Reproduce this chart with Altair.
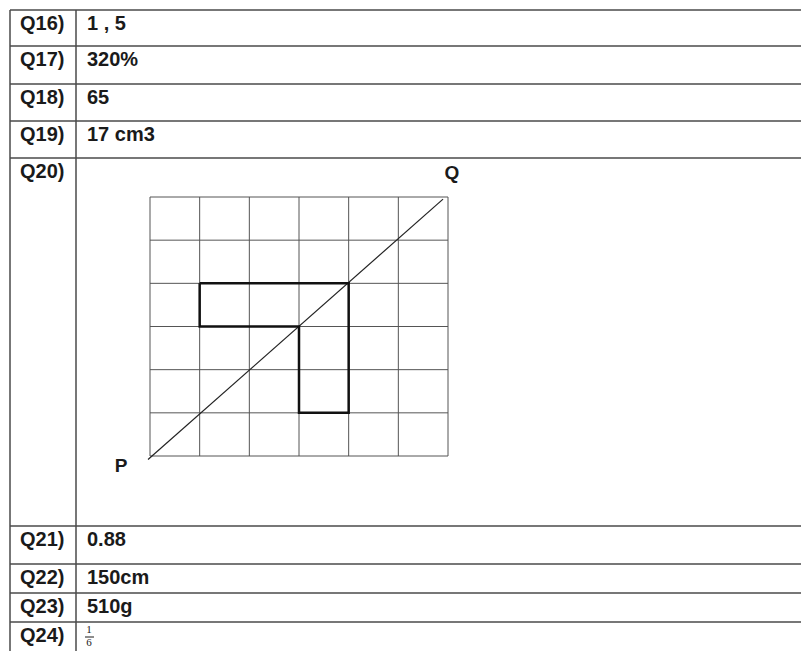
import altair as alt
import pandas as pd

# ---- table content ----
labels = ["Q16)", "Q17)", "Q18)", "Q19)", "Q20)", "Q21)", "Q22)", "Q23)", "Q24)"]
answers = ["1 , 5", "320%", "65", "17 cm3", "", "0.88", "150cm", "510g", ""]
row_tops = [10, 46, 84, 121, 158, 526, 564, 593, 622]
col_edges = [10, 76]
table_right = 801
table_bottom = 651
frac_parts = ["1", "6"]

# ---- Q20 drawing (grid units) ----
grid_lines = [0, 1, 2, 3, 4, 5, 6]
shape_x = [1, 4, 4, 3, 3, 1, 1]
shape_y = [4, 4, 1, 1, 3, 3, 4]
diag_x = [-0.04, 5.9]
diag_y = [-0.08, 5.95]
point_names = ["P", "Q"]
point_x = [-0.58, 6.08]
point_y = [-0.37, 6.41]

LINE = "#4a4a4a"
FONT = "Liberation Sans"

# page pixel coordinates -> plot (svg sits at an 8px offset)
xs = alt.Scale(domain=[8, 801], nice=False, zero=False)
ys = alt.Scale(domain=[8, 651], nice=False, zero=False, reverse=True)

hdf = pd.DataFrame({"y": row_tops, "x0": col_edges[0], "x1": table_right})
vdf = pd.DataFrame({"x": col_edges, "y0": row_tops[0], "y1": table_bottom})
rows = pd.DataFrame({"label": labels, "answer": answers,
                     "base": [t + 20 for t in row_tops]})
rows["lx"] = 20
rows["ax"] = 87

h_rules = alt.Chart(hdf).mark_rule(color=LINE, strokeWidth=1.5).encode(
    x=alt.X("x0:Q", scale=xs, axis=None), x2="x1:Q",
    y=alt.Y("y:Q", scale=ys, axis=None))
v_rules = alt.Chart(vdf).mark_rule(color=LINE, strokeWidth=1.5).encode(
    x=alt.X("x:Q", scale=xs, axis=None),
    y=alt.Y("y0:Q", scale=ys, axis=None), y2="y1:Q")
lab_text = alt.Chart(rows).mark_text(
    font=FONT, fontSize=20, fontWeight="bold", align="left",
    baseline="alphabetic", color="#1a1a1a").encode(
    x=alt.X("lx:Q", scale=xs, axis=None),
    y=alt.Y("base:Q", scale=ys, axis=None), text="label:N")
ans_text = alt.Chart(rows).mark_text(
    font=FONT, fontSize=20, fontWeight="bold", align="left",
    baseline="alphabetic", color="#1a1a1a").encode(
    x=alt.X("ax:Q", scale=xs, axis=None),
    y=alt.Y("base:Q", scale=ys, axis=None), text="answer:N")

fdf = pd.DataFrame({"t": frac_parts, "x": [89, 89],
                    "y": [row_tops[-1] + 11, row_tops[-1] + 24]})
frac_text = alt.Chart(fdf).mark_text(
    font="Liberation Serif", fontSize=11, align="center",
    baseline="alphabetic", color="#1a1a1a").encode(
    x=alt.X("x:Q", scale=xs, axis=None),
    y=alt.Y("y:Q", scale=ys, axis=None), text="t:N")
bar_df = pd.DataFrame({"x0": [85], "x1": [94], "y": [row_tops[-1] + 15]})
frac_bar = alt.Chart(bar_df).mark_rule(color="#1a1a1a", strokeWidth=1).encode(
    x=alt.X("x0:Q", scale=xs, axis=None), x2="x1:Q",
    y=alt.Y("y:Q", scale=ys, axis=None))

table = alt.layer(h_rules, v_rules, lab_text, ans_text, frac_text, frac_bar)

# ---- grid drawing ----
gx = alt.Scale(domain=[0, 6], range=[142, 440], nice=False, zero=False)
gy = alt.Scale(domain=[0, 6], range=[448, 189], nice=False, zero=False)

gdf = pd.DataFrame({"g": grid_lines, "lo": 0, "hi": 6})
g_v = alt.Chart(gdf).mark_rule(color="#555555", strokeWidth=1).encode(
    x=alt.X("g:Q", scale=gx, axis=None),
    y=alt.Y("lo:Q", scale=gy, axis=None), y2="hi:Q")
g_h = alt.Chart(gdf).mark_rule(color="#555555", strokeWidth=1).encode(
    y=alt.Y("g:Q", scale=gy, axis=None),
    x=alt.X("lo:Q", scale=gx, axis=None), x2="hi:Q")
ddf = pd.DataFrame({"x": diag_x, "y": diag_y, "i": [0, 1]})
diag = alt.Chart(ddf).mark_line(color="#222222", strokeWidth=1.2).encode(
    x=alt.X("x:Q", scale=gx, axis=None),
    y=alt.Y("y:Q", scale=gy, axis=None), order="i:Q")
sdf = pd.DataFrame({"x": shape_x, "y": shape_y, "i": list(range(len(shape_x)))})
shape = alt.Chart(sdf).mark_line(color="#111111", strokeWidth=2.5).encode(
    x=alt.X("x:Q", scale=gx, axis=None),
    y=alt.Y("y:Q", scale=gy, axis=None), order="i:Q")
pdf = pd.DataFrame({"n": point_names, "x": point_x, "y": point_y})
pts = alt.Chart(pdf).mark_text(
    font=FONT, fontSize=19, fontWeight="bold", align="center",
    baseline="alphabetic", color="#1a1a1a").encode(
    x=alt.X("x:Q", scale=gx, axis=None),
    y=alt.Y("y:Q", scale=gy, axis=None), text="n:N")

grid = alt.layer(g_v, g_h, diag, shape, pts)

chart = alt.layer(table, grid).resolve_scale(
    x="independent", y="independent"
).properties(
    width=793, height=643, autosize="none", padding=0
).configure_view(stroke=None)

chart.save("out.html", embed_options={"renderer": "svg", "actions": False})
